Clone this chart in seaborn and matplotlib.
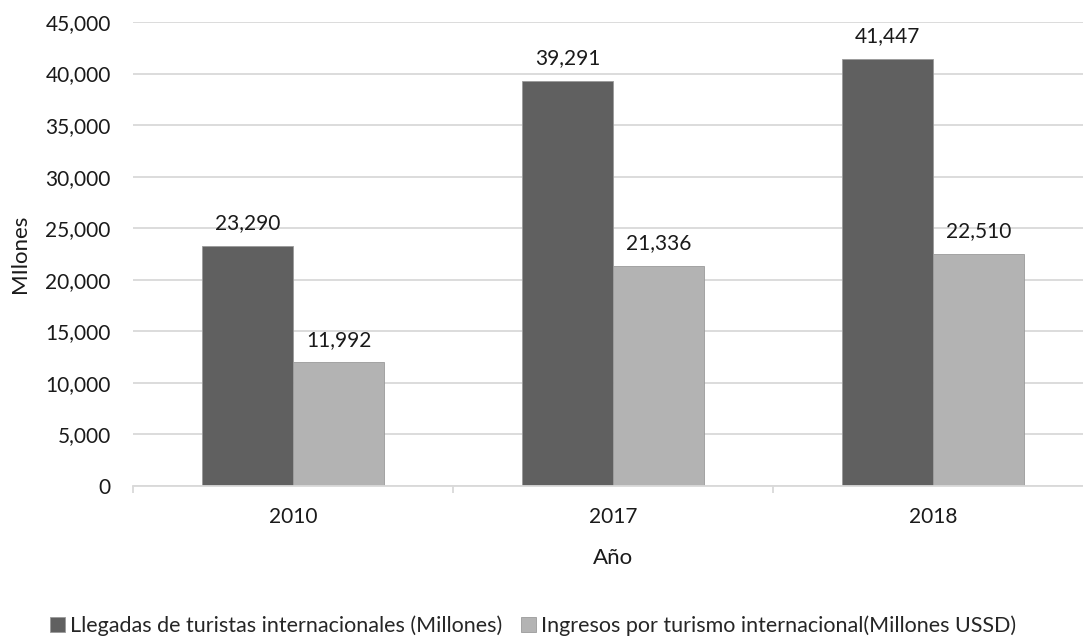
import matplotlib
matplotlib.use("Agg")
import matplotlib.pyplot as plt
import numpy as np
import pandas as pd
import seaborn as sns

years = ["2010", "2017", "2018"]
series = ["Llegadas de turistas internacionales (Millones)",
          "Ingresos por turismo internacional(Millones USSD)"]
llegadas = [23290, 39291, 41447]
ingresos = [11992, 21336, 22510]
yticks = [0, 5000, 10000, 15000, 20000, 25000, 30000, 35000, 40000, 45000]

df = pd.DataFrame({
    "Año": years * 2,
    "serie": [series[0]] * 3 + [series[1]] * 3,
    "valor": llegadas + ingresos,
})

sns.set_theme(style="white")
plt.rcParams["font.family"] = ["Lato", "DejaVu Sans"]
txt = "#1a1a1a"

fig = plt.figure(figsize=(10.83, 6.38), dpi=100)
ax = fig.add_axes([133 / 1083, 152 / 638, 960 / 1083, 464 / 638])

sns.barplot(data=df, x="Año", y="valor", hue="serie", order=years,
            hue_order=series, palette=["#606060", "#b3b3b3"],
            width=0.57, saturation=1, edgecolor="#9a9a9a", linewidth=0.6,
            ax=ax, legend=True)

for cont in ax.containers:
    ax.bar_label(cont, labels=[f"{v:,.0f}" for v in cont.datavalues],
                 padding=9, fontsize=15, color=txt)

ax.set_ylim(0, 45000)
ax.set_xlim(-0.5, 2.5)
ax.set_yticks(yticks)
ax.set_yticklabels([f"{t:,}" for t in yticks])
ax.yaxis.grid(True, color="#d9d9d9", linewidth=1.3)
ax.set_axisbelow(True)
for s in ["top", "right", "left"]:
    ax.spines[s].set_visible(False)
ax.spines["bottom"].set_color("#d9d9d9")
ax.spines["bottom"].set_linewidth(1.3)

ax.tick_params(axis="y", length=0, pad=16, labelsize=15, labelcolor=txt)
ax.tick_params(axis="x", which="major", length=0, pad=15, labelsize=15,
               labelcolor=txt)
ax.set_xticks([-0.5, 0.5, 1.5, 2.5], minor=True)
ax.tick_params(axis="x", which="minor", length=5, width=1.3, color="#d9d9d9",
               bottom=True)

ax.set_xlabel("Año", fontsize=16, color=txt, va="center")
ax.set_ylabel("MIlones", fontsize=16, color=txt, va="center")
ax.xaxis.set_label_coords(0.5, -0.155)
ax.yaxis.set_label_coords(-0.118, 0.5)

ax.legend(loc="center", bbox_to_anchor=(533 / 1083, 12 / 638),
          bbox_transform=fig.transFigure, ncol=2, frameon=False,
          fontsize=15.5, handlelength=0.7, handleheight=0.7,
          handletextpad=0.2, columnspacing=0.9, borderpad=0)

fig.savefig("out.png", dpi=100)
